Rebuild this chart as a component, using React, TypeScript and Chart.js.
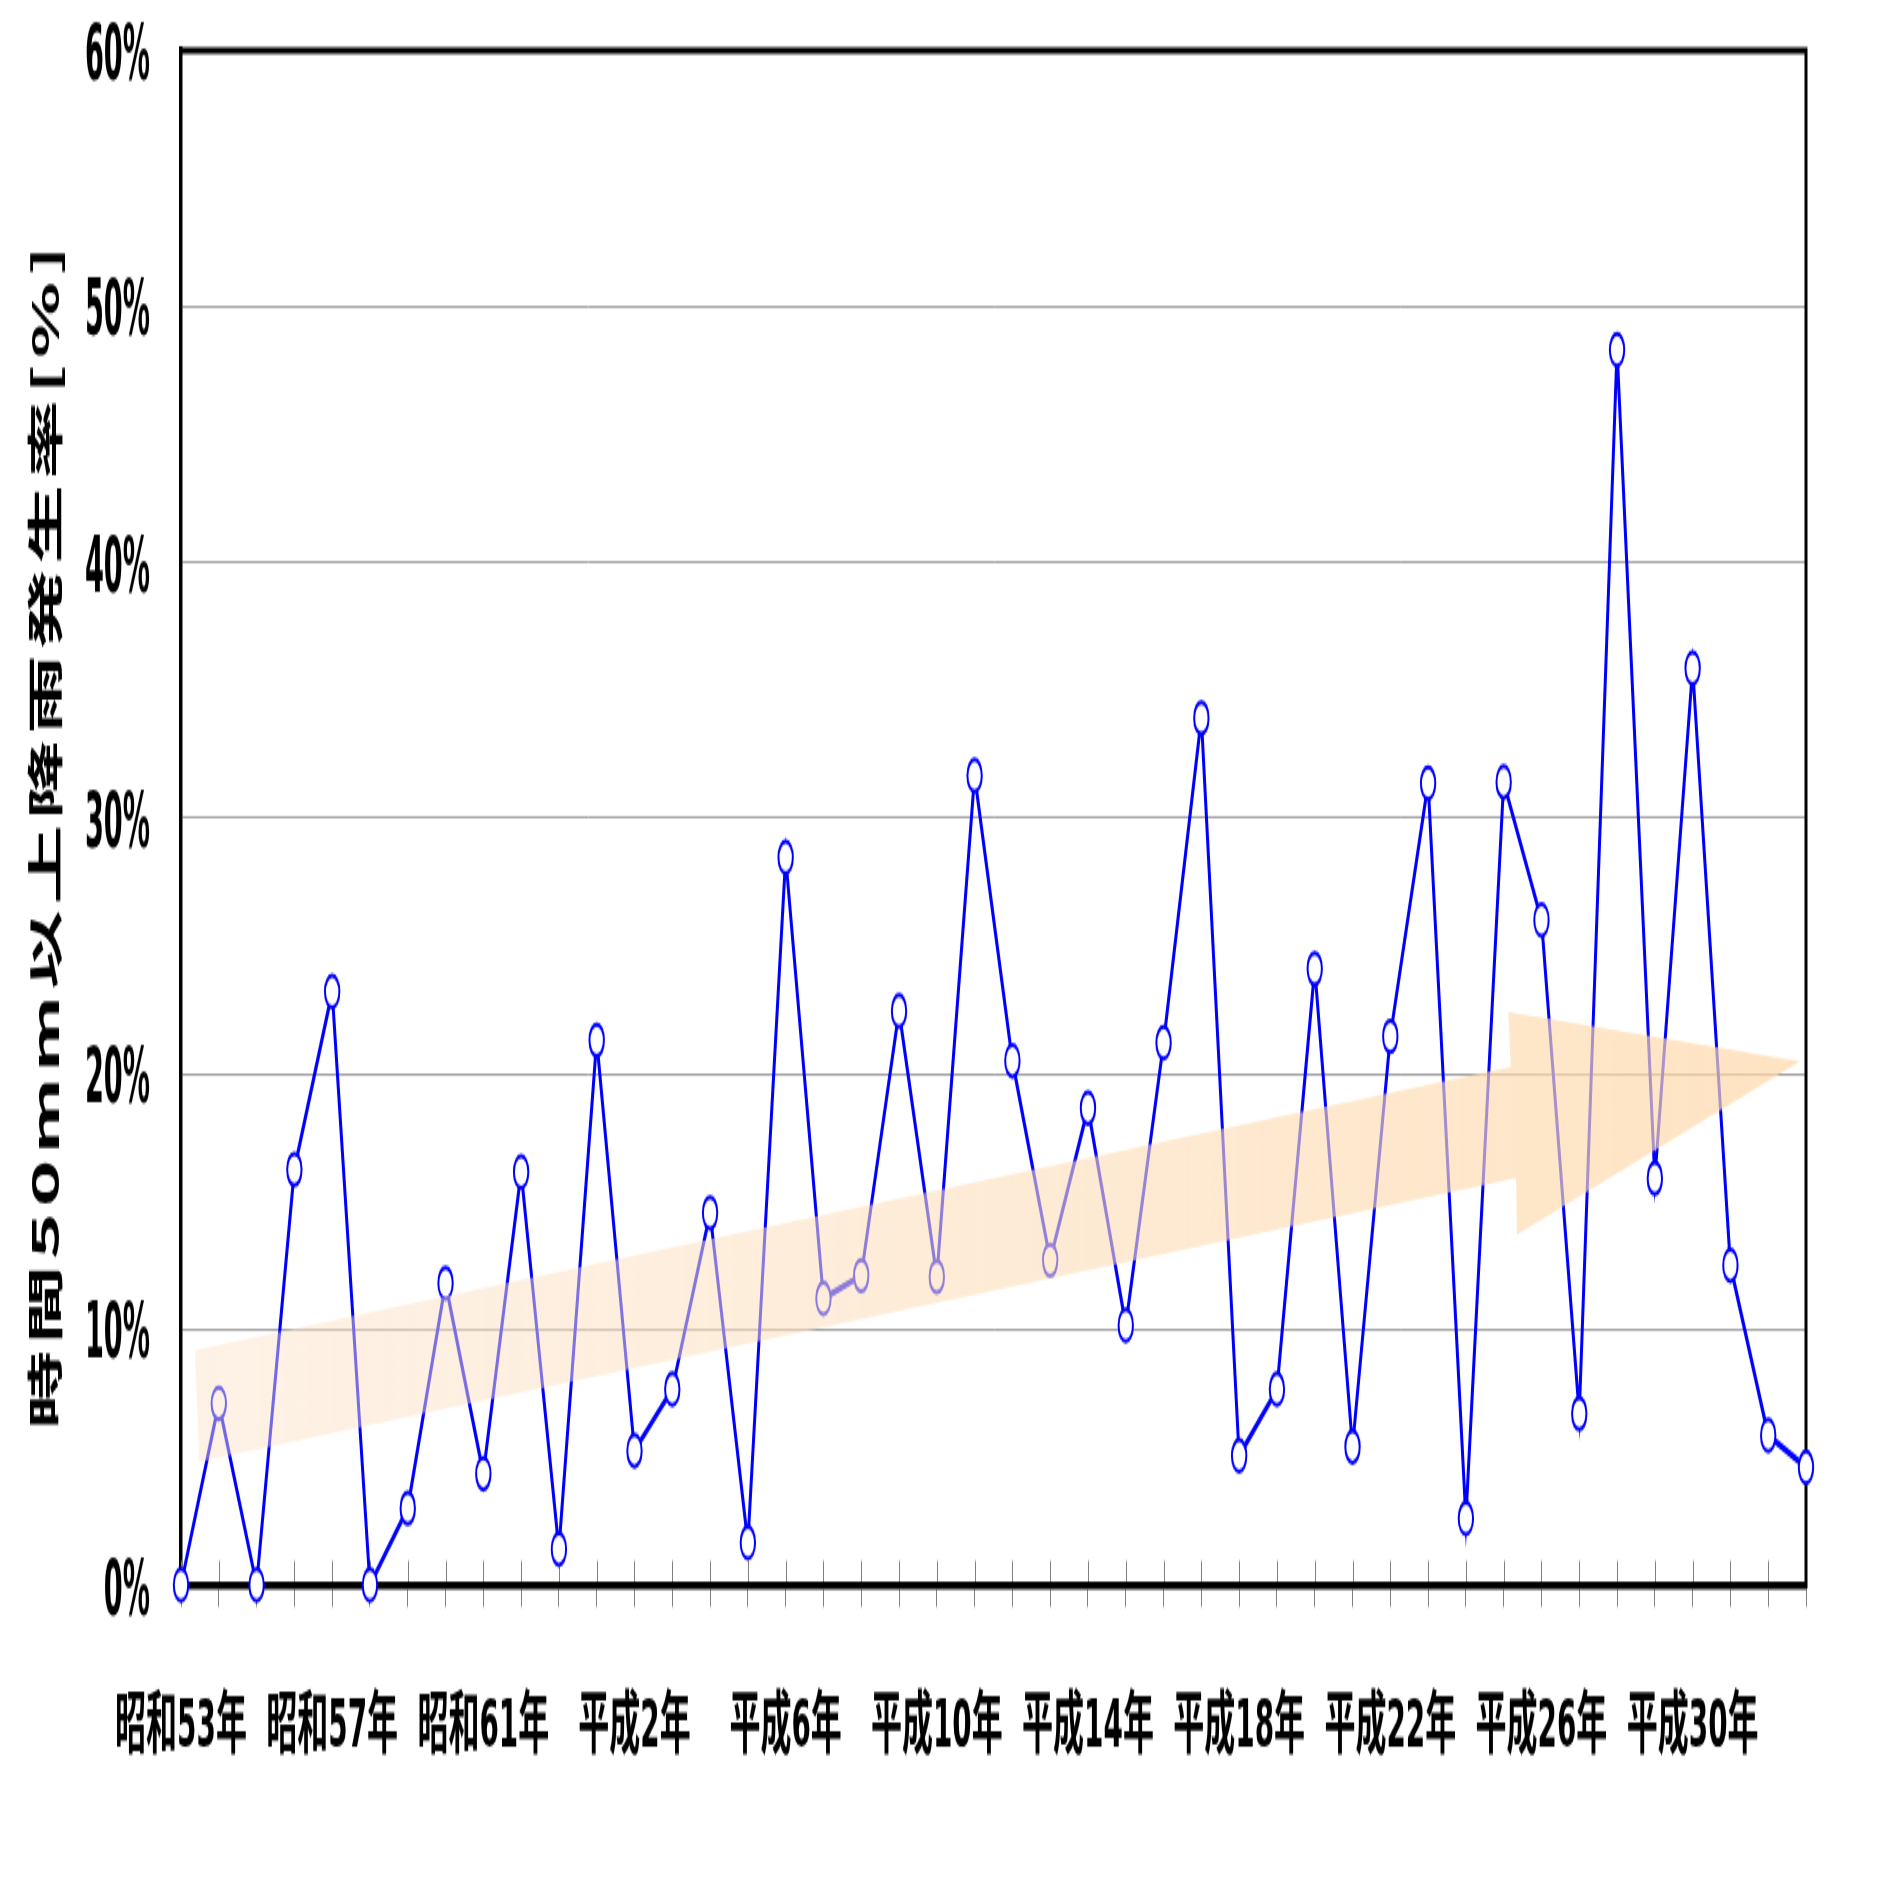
import React, { useEffect, useRef } from 'react';
import { Chart, registerables } from 'chart.js';

Chart.register(...registerables);

// Fiscal years (Japanese era), 昭和53年 (1978) .. 令和3年 (2021)
const years: string[] = [
  '昭和53年', '昭和54年', '昭和55年', '昭和56年', '昭和57年', '昭和58年', '昭和59年', '昭和60年',
  '昭和61年', '昭和62年', '昭和63年', '平成元年', '平成2年', '平成3年', '平成4年', '平成5年',
  '平成6年', '平成7年', '平成8年', '平成9年', '平成10年', '平成11年', '平成12年', '平成13年',
  '平成14年', '平成15年', '平成16年', '平成17年', '平成18年', '平成19年', '平成20年', '平成21年',
  '平成22年', '平成23年', '平成24年', '平成25年', '平成26年', '平成27年', '平成28年', '平成29年',
  '平成30年', '令和元年', '令和2年', '令和3年',
];

// 時間50mm以上降雨発生率 [%]
const rates: number[] = [
  0, 7.1, 0, 16.25, 23.2, 0, 3.0, 11.8, 4.35, 16.15,
  1.4, 21.3, 5.25, 7.65, 14.55, 1.65, 28.45, 11.2, 12.1, 22.45,
  12.05, 31.65, 20.5, 12.7, 18.65, 10.15, 21.2, 33.9, 5.05, 7.65,
  24.1, 5.4, 21.45, 31.35, 2.6, 31.4, 26.0, 6.7, 48.3, 15.9,
  35.85, 12.5, 5.85, 4.6,
];

// y axis range and step (percent)
const yRange = { min: 0, max: 60, step: 10 };

// trend arrow outline, in data units: [category index, percent]
const trendArrow: [number, number][] = [
  [0.37, 9.19],
  [35.19, 20.25],
  [35.12, 22.4],
  [42.84, 20.48],
  [35.35, 13.7],
  [35.33, 15.91],
  [0.48, 4.81],
];

const yTitle = '時間50mm以上降雨発生率[%]';

const W = 1894;
const H = 1894;
const STRETCH = 2.2;
const CH = Math.round(H / STRETCH);

const narrow = "'Liberation Sans Narrow', 'Arial Narrow', 'DejaVu Sans Condensed', 'Noto Sans CJK JP', sans-serif";
const cjk = "'Noto Sans CJK JP', 'Noto Sans', sans-serif";

export default function App() {
  const ref = useRef<HTMLCanvasElement>(null);

  useEffect(() => {
    const canvas = ref.current;
    if (!canvas) return;

    const framePlugin = {
      id: 'frame',
      beforeDatasetsDraw(chart: any) {
        const { ctx, chartArea: a, scales } = chart;
        const xs = scales.x;
        ctx.save();
        ctx.strokeStyle = '#808080';
        ctx.lineWidth = 1;
        xs.ticks.forEach((_: any, i: number) => {
          const px = Math.round(xs.getPixelForTick(i)) + 0.5;
          ctx.beginPath();
          ctx.moveTo(px, a.bottom - 11);
          ctx.lineTo(px, a.bottom - 1.5);
          ctx.stroke();
        });
        ctx.strokeStyle = '#000000';
        ctx.lineWidth = 3;
        ctx.lineCap = 'square';
        ctx.beginPath();
        ctx.moveTo(a.left, a.top);
        ctx.lineTo(a.right, a.top);
        ctx.lineTo(a.right, a.bottom);
        ctx.stroke();
        ctx.restore();
      },
    };

    const arrowPlugin = {
      id: 'trendArrow',
      afterDatasetsDraw(chart: any) {
        const { ctx, scales } = chart;
        const pts = trendArrow.map(([i, v]) => [scales.x.getPixelForValue(i), scales.y.getPixelForValue(v)]);
        const xsArr = pts.map((p) => p[0]);
        const minX = Math.min(...xsArr);
        const maxX = Math.max(...xsArr);
        const g = ctx.createLinearGradient(minX, 0, maxX, 0);
        g.addColorStop(0, 'rgba(252,226,200,0.45)');
        g.addColorStop(1, 'rgba(254,216,168,0.70)');
        ctx.save();
        ctx.fillStyle = g;
        ctx.beginPath();
        pts.forEach(([px, py], k) => (k ? ctx.lineTo(px, py) : ctx.moveTo(px, py)));
        ctx.closePath();
        ctx.fill();
        ctx.restore();
      },
    };

    // y tick labels (from the scale's ticks), drawn slightly condensed
    const yLabelPlugin = {
      id: 'yLabels',
      afterDraw(chart: any) {
        const ys = chart.scales.y;
        const ctx = chart.ctx;
        ctx.save();
        ctx.font = `bold 36px ${narrow}`;
        ctx.fillStyle = '#000000';
        ctx.textAlign = 'right';
        ctx.textBaseline = 'alphabetic';
        ys.ticks.forEach((t: any, i: number) => {
          const py = ys.getPixelForTick(i);
          const label = `${t.value}%`;
          ctx.save();
          ctx.translate(ys.right - 31, py + 13);
          ctx.scale(0.84, 1);
          ctx.fillText(label, 0, 0);
          ctx.restore();
        });
        ctx.restore();
      },
    };

    const titlePlugin = {
      id: 'yTitle',
      afterDraw(chart: any) {
        const { ctx, chartArea: a } = chart;
        ctx.save();
        ctx.font = `bold 36px ${cjk}`;
        ctx.fillStyle = '#000000';
        ctx.textAlign = 'center';
        ctx.textBaseline = 'middle';
        const natural = ctx.measureText(yTitle).width;
        const n = Array.from(yTitle).length;
        const spacing = Math.max(0, (538 - natural) / (n - 1));
        (ctx as any).letterSpacing = `${spacing}px`;
        ctx.translate(45, (a.top + a.bottom) / 2 + 9);
        ctx.rotate(-Math.PI / 2);
        ctx.fillText(yTitle, spacing / 2, 0);
        ctx.restore();
      },
    };

    const chart = new Chart(canvas, {
      type: 'line',
      data: {
        labels: years,
        datasets: [
          {
            data: rates,
            borderColor: '#0000ff',
            borderWidth: 3,
            pointRadius: 7.2,
            pointHoverRadius: 7.2,
            pointBorderWidth: 2,
            pointBackgroundColor: '#ffffff',
            pointBorderColor: '#0000ff',
            tension: 0,
            clip: false as any,
          },
        ],
      },
      options: {
        responsive: false,
        maintainAspectRatio: false,
        animation: false,
        devicePixelRatio: 1,
        events: [],
        layout: { padding: { left: 0, right: 88, top: 23, bottom: 0 } },
        plugins: { legend: { display: false }, tooltip: { enabled: false } },
        scales: {
          x: {
            type: 'category',
            offset: false,
            grid: { display: true, drawOnChartArea: false, drawTicks: true, tickLength: 10, color: '#808080', lineWidth: 1 },
            border: { display: true, color: '#000000', width: 3.5 },
            ticks: {
              autoSkip: false,
              maxRotation: 0,
              minRotation: 0,
              padding: 37,
              color: '#000000',
              font: { family: narrow, size: 31, weight: 'bold' },
              callback: (_v: any, i: number) => (i % 4 === 0 ? years[i] : ''),
            },
            afterFit: (s: any) => {
              s.height = CH - 720.5;
              s.paddingLeft = 0;
              s.paddingRight = 0;
            },
          },
          y: {
            min: yRange.min,
            max: yRange.max,
            ticks: {
              display: false,
              stepSize: yRange.step,
              callback: (v: any) => `${v}%`,
            },
            grid: { color: '#a0a0a0', lineWidth: 1, drawTicks: false },
            border: { display: true, color: '#000000', width: 3.5 },
            afterFit: (s: any) => {
              s.width = 181;
              s.paddingTop = 0;
              s.paddingBottom = 0;
            },
          },
        },
      } as any,
      plugins: [framePlugin, arrowPlugin, yLabelPlugin, titlePlugin],
    });

    return () => chart.destroy();
  }, []);

  return (
    <div style={{ position: 'absolute', left: 0, top: 0, width: W, height: H, background: '#ffffff' }}>
      <canvas ref={ref} width={W} height={CH} style={{ width: `${W}px`, height: `${H}px`, display: 'block' }} />
    </div>
  );
}
